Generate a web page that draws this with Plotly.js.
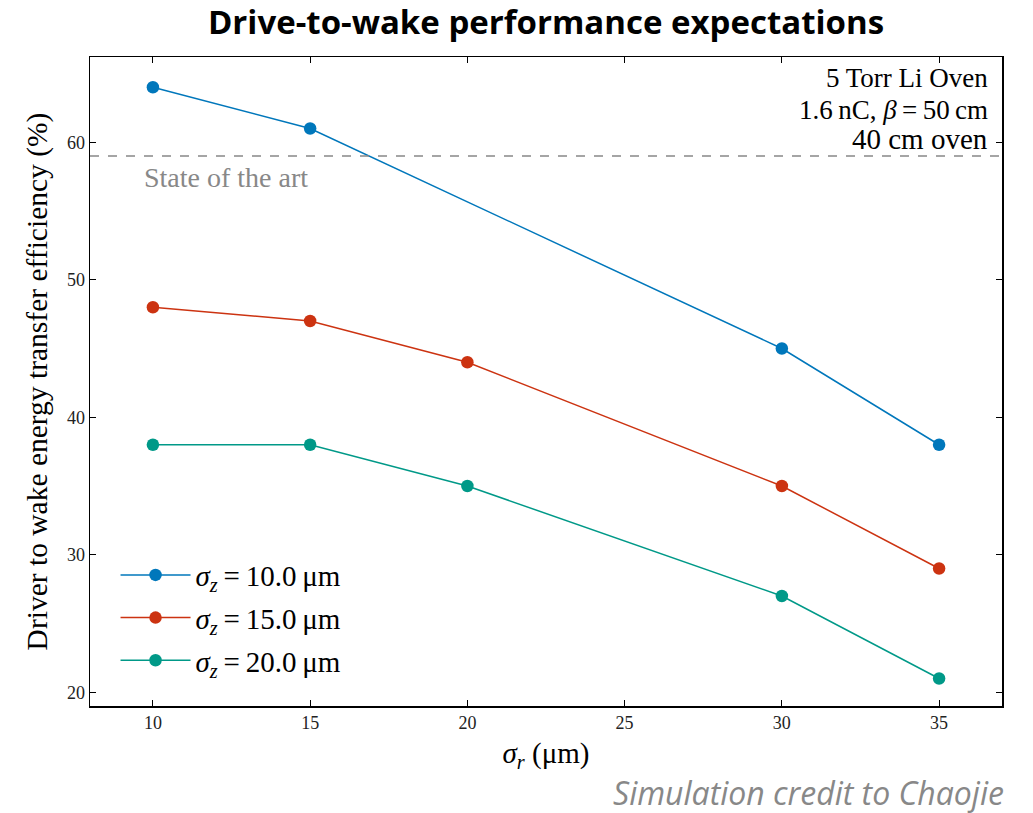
<!DOCTYPE html>
<html>
<head>
<meta charset="utf-8">
<script src="https://cdn.plot.ly/plotly-3.0.1.min.js"></script>
<style>html,body{margin:0;padding:0;background:#fff;}#chart{width:1033px;height:813px;}</style>
</head>
<body>
<div id="chart"></div>
<script>
const sigmaR10 = [10, 15, 30, 35];
const eff10 = [64, 61, 45, 38];
const sigmaR15 = [10, 15, 20, 30, 35];
const eff15 = [48, 47, 44, 35, 29];
const sigmaR20 = [10, 15, 20, 30, 35];
const eff20 = [38, 38, 35, 27, 21];
const seriesNames = ['<i>σ<sub>z</sub></i>\u2009=\u200910.0\u2009μm', '<i>σ<sub>z</sub></i>\u2009=\u200915.0\u2009μm', '<i>σ<sub>z</sub></i>\u2009=\u200920.0\u2009μm'];
const stateOfArt = 59;
const xTicks = [10, 15, 20, 25, 30, 35];
const yTicks = [20, 30, 40, 50, 60];
const infoLines = ['5 Torr Li Oven', '1.6\u2009nC, <i>β</i>\u2009=\u200950\u2009cm', '40 cm oven'];

const colors = ['#0077BB', '#CC3311', '#009988'];
const serif = 'Liberation Serif, Times New Roman, serif';

function tr(x, y, name, c, g) {
  return {x: x, y: y, name: name, legendgroup: g, type: 'scatter', mode: 'lines+markers',
    line: {color: c, width: 1.5}, marker: {color: c, size: 12.5}};
}

const data = [
  tr(sigmaR10, eff10, seriesNames[0], colors[0], 'a'),
  tr(sigmaR15, eff15, seriesNames[1], colors[1], 'b'),
  tr(sigmaR20, eff20, seriesNames[2], colors[2], 'c')
];

const infoY = [0.9676, 0.9183, 0.8737];
const infoSize = [27, 27, 29];

const annotations = [
  {xref: 'paper', yref: 'paper', x: 0.057, y: 0.8136, xanchor: 'left', yanchor: 'middle', showarrow: false,
    text: 'State of the art', font: {family: serif, size: 28, color: '#888'}},
  {xref: 'paper', yref: 'paper', x: 1.004, y: -0.134, xanchor: 'right', yanchor: 'middle', showarrow: false,
    text: '<i>Simulation credit to Chaojie</i>', font: {family: 'Open Sans, sans-serif', size: 32, color: '#888'}}
];
infoLines.forEach((t, i) => annotations.push({xref: 'paper', yref: 'paper', x: 0.9868, y: infoY[i],
  xanchor: 'right', yanchor: 'middle', showarrow: false, text: t, font: {family: serif, size: infoSize[i], color: '#000'}}));

const layout = {
  width: 1033, height: 813,
  margin: {l: 90, r: 31, t: 57, b: 107},
  paper_bgcolor: '#fff', plot_bgcolor: '#fff',
  title: {text: '<b>Drive-to-wake performance expectations</b>', x: 0.5286, xanchor: 'center', y: 0.972, yanchor: 'middle',
    font: {family: 'Open Sans, sans-serif', size: 33, color: '#000'}},
  font: {family: serif, color: '#000'},
  xaxis: {range: [8, 37], tickvals: xTicks, ticks: 'inside', ticklen: 6, tickwidth: 1, tickcolor: '#000',
    mirror: 'ticks', showline: true, linecolor: '#000', linewidth: 1.5, showgrid: false, zeroline: false,
    tickfont: {family: serif, size: 18, color: '#222'},
    title: {text: '<i>σ<sub>r</sub></i> (μm)', font: {family: serif, size: 29, color: '#000'}, standoff: 10}},
  yaxis: {range: [19, 66.2], tickvals: yTicks, ticks: 'inside', ticklen: 6, tickwidth: 1, tickcolor: '#000',
    mirror: 'ticks', showline: true, linecolor: '#000', linewidth: 1.5, showgrid: false, zeroline: false,
    tickfont: {family: serif, size: 18, color: '#222'},
    title: {text: 'Driver to wake energy transfer efficiency (%)', font: {family: serif, size: 29.5, color: '#000'}, standoff: 10}},
  shapes: [{type: 'line', xref: 'paper', x0: 0, x1: 1, yref: 'y', y0: stateOfArt, y1: stateOfArt,
    line: {color: '#888', width: 1.3, dash: 'dash'}}],
  annotations: annotations,
  legend: {x: 0.028, y: 0.03, xanchor: 'left', yanchor: 'bottom', bgcolor: 'rgba(0,0,0,0)', traceorder: 'grouped',
    font: {family: serif, size: 29, color: '#000'}, itemwidth: 70, tracegroupgap: 2},
  showlegend: true
};

Plotly.newPlot('chart', data, layout, {displayModeBar: false, staticPlot: true});
</script>
</body>
</html>
